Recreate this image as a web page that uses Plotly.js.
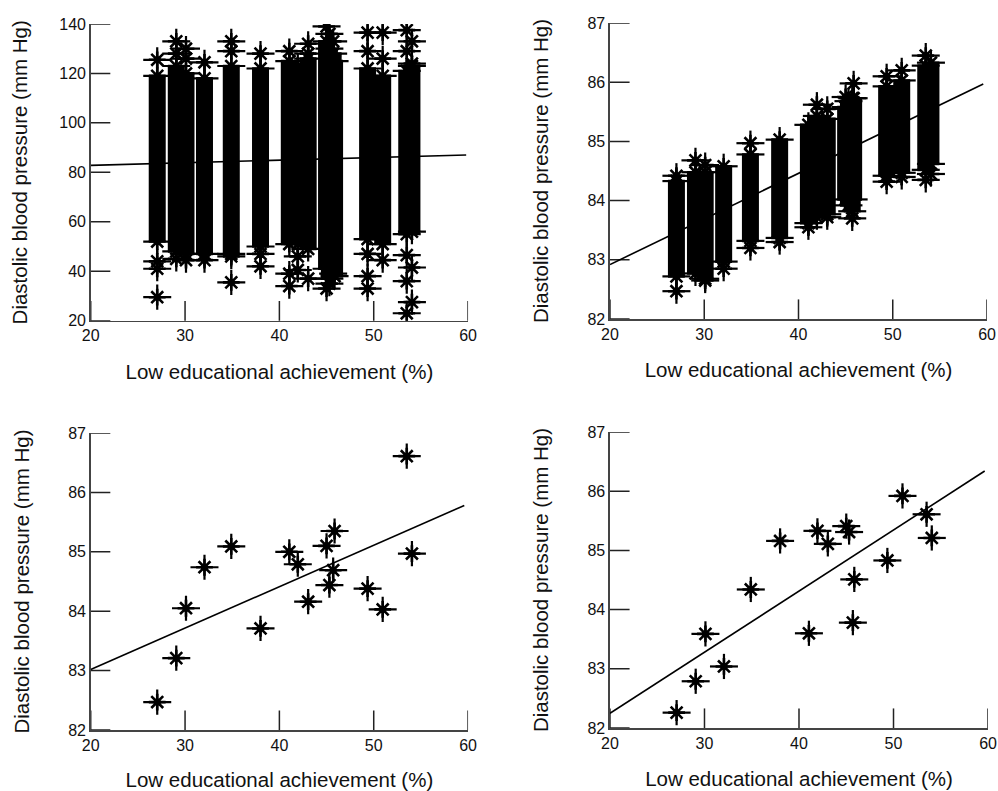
<!DOCTYPE html>
<html>
<head>
<meta charset="utf-8">
<script src="https://cdn.plot.ly/plotly-3.0.1.min.js"></script>
<style>
html,body{margin:0;padding:0;background:#fff;}
#chart{width:998px;height:791px;}
</style>
</head>
<body>
<div id="chart"></div>
<script>
// ---- Data ----
// Area-level x values: low educational achievement (%)
const areaX = [27.05, 29.07, 30.1, 32.06, 34.9, 38.0, 41.05, 41.95, 43.05, 45.0, 45.3, 45.7, 45.85, 49.35, 50.95, 53.5, 54.05];

// Top-left: individual diastolic BP, dense range per area (low / high) and isolated extreme points
const tlLow  = [52, 48, 47, 47, 47, 50, 51, 51, 49, 41, 37, 39, 38, 53, 51, 55, 56];
const tlHigh = [119, 123, 120, 118, 123, 122, 125, 123, 126, 133, 130, 128, 125, 122, 119, 121, 123];
const tlOutX = [27.05,27.05,27.05,27.05, 29.07,29.07,29.07, 30.1,30.1,30.1, 32.06,32.06, 34.9,34.9,34.9,34.9, 38.0,38.0,38.0, 41.05,41.05,41.05, 41.95,41.95, 43.05,43.05,43.05, 45.0,45.0, 45.3,45.3, 45.7, 49.35,49.35,49.35,49.35,49.35, 50.95,50.95,50.95, 53.5,53.5,53.5,53.5,53.5, 54.05,54.05,54.05,54.05];
const tlOutY = [125.5,44,41,29.5, 133,128,45, 130,126,44.5, 124.5,44.5, 133,129,46,35.5, 128,47,42, 129,39,34, 40.5,46, 132,128,37, 139,33, 136,35, 133, 136.5,129,47,38,33, 136.5,126,44.5, 137.5,129,46.5,36,23, 133,124,41.5,27.5];
const tlLineX = [20, 59.8];
const tlLineY = [82.8, 87.0];

// Top-right: predicted diastolic BP per individual, dense range per area and extreme points
const trLow  = [82.72, 82.77, 82.68, 82.97, 83.32, 83.37, 83.62, 83.72, 83.77, 84.02, 83.92, 83.82, 84.02, 84.42, 84.47, 84.52, 84.62];
const trHigh = [84.33, 84.48, 84.48, 84.58, 84.78, 85.03, 85.28, 85.43, 85.38, 85.58, 85.68, 85.73, 85.73, 85.93, 86.03, 86.28, 86.33];
const trOutX = [27.05,27.05, 29.07, 30.1,30.1, 32.06, 34.9,34.9, 38.0, 41.05, 41.95, 43.05,43.05, 45.0, 45.7, 45.85, 49.35,49.35, 50.95,50.95, 53.5,53.5, 54.05];
const trOutY = [84.42,82.47, 84.68, 84.6,82.65, 82.85, 84.97,83.2, 83.3, 83.55, 85.62, 85.55,83.72, 85.75, 83.7, 85.98, 86.1,84.32, 86.2,84.4, 86.45,84.35, 84.45];
const trLineX = [20, 59.6];
const trLineY = [82.92, 85.97];

// Bottom-left: area mean diastolic BP
const blY = [82.47, 83.21, 84.05, 84.74, 85.09, 83.71, 85.0, 84.79, 84.16, 85.10, 84.44, 84.69, 85.35, 84.38, 84.03, 86.61, 84.97];
const blLineX = [20, 59.6];
const blLineY = [83.02, 85.78];

// Bottom-right: area mean predicted diastolic BP
const brY = [82.26, 82.79, 83.59, 83.04, 84.34, 85.16, 83.60, 85.33, 85.11, 85.41, 85.31, 83.78, 84.51, 84.83, 85.92, 85.61, 85.21];
const brLineX = [20, 59.65];
const brLineY = [82.25, 86.34];

// Axis labels and ticks
const xTitle = 'Low educational achievement (%)';
const yTitle = 'Diastolic blood pressure (mm Hg)';
const xTicks = [20, 30, 40, 50, 60];
const yTicksTL = [20, 40, 60, 80, 100, 120, 140];
const yTicksBP = [82, 83, 84, 85, 86, 87];

// ---- Build ----
function segs(xs, lo, hi) {
  const X = [], Y = [];
  xs.forEach((x, i) => { X.push(x, x, null); Y.push(lo[i], hi[i], null); });
  return {X, Y};
}
const traces = [];
function addStars(x, y, xa, ya) {
  const c = {type: 'scatter', mode: 'markers', x: x, y: y, xaxis: xa, yaxis: ya, hoverinfo: 'skip', showlegend: false};
  traces.push(Object.assign({}, c, {marker: {symbol: 'line-ew-open', size: 20, color: '#000', line: {color: '#000', width: 2.2}}}));
  traces.push(Object.assign({}, c, {marker: {symbol: 'line-ns-open', size: 18, color: '#000', line: {color: '#000', width: 2.2}}}));
  traces.push(Object.assign({}, c, {marker: {symbol: 'asterisk-open', size: 14, color: '#000', line: {color: '#000', width: 2.6}}}));
  traces.push(Object.assign({}, c, {marker: {symbol: 'circle', size: 7, color: '#000', line: {width: 0}}}));
}
function addLine(x, y, xa, ya) {
  traces.push({type: 'scatter', mode: 'lines', x: x, y: y, xaxis: xa, yaxis: ya, line: {color: '#000', width: 1.6}, hoverinfo: 'skip', showlegend: false});
}
function addCore(lo, hi, xa, ya) {
  const s = segs(areaX, lo, hi);
  traces.push({type: 'scatter', mode: 'lines', x: s.X, y: s.Y, xaxis: xa, yaxis: ya, line: {color: '#000', width: 17}, connectgaps: false, hoverinfo: 'skip', showlegend: false});
  addStars(areaX, lo, xa, ya);
  addStars(areaX, hi, xa, ya);
}
// Inward tick marks: centred line markers on the axis, the outer half is clipped by the plot area
function addTicks(xa, ya, yTicks) {
  const base = {type: 'scatter', mode: 'markers', xaxis: xa, yaxis: ya, cliponaxis: true, hoverinfo: 'skip', showlegend: false};
  traces.push(Object.assign({}, base, {x: xTicks, y: xTicks.map(() => yTicks[0]),
    marker: {symbol: 'line-ns-open', size: 28, color: '#222', line: {color: '#222', width: 1.5}}}));
  traces.push(Object.assign({}, base, {x: yTicks.map(() => xTicks[0]), y: yTicks,
    marker: {symbol: 'line-ew-open', size: 28, color: '#222', line: {color: '#222', width: 1.5}}}));
}

addTicks('x', 'y', yTicksTL);
addLine(tlLineX, tlLineY, 'x', 'y');
addCore(tlLow, tlHigh, 'x', 'y');
addStars(tlOutX, tlOutY, 'x', 'y');
addTicks('x2', 'y2', yTicksBP);
addLine(trLineX, trLineY, 'x2', 'y2');
addCore(trLow, trHigh, 'x2', 'y2');
addStars(trOutX, trOutY, 'x2', 'y2');
addTicks('x3', 'y3', yTicksBP);
addLine(blLineX, blLineY, 'x3', 'y3');
addStars(areaX, blY, 'x3', 'y3');
addTicks('x4', 'y4', yTicksBP);
addLine(brLineX, brLineY, 'x4', 'y4');
addStars(areaX, brY, 'x4', 'y4');

const FONT = '"Liberation Sans", Arial, Helvetica, sans-serif';
const common = {
  showline: true, linecolor: '#444', linewidth: 1.5, ticks: '',
  showgrid: false, zeroline: false, mirror: false, fixedrange: true,
  tickfont: {family: FONT, size: 16, color: '#111'}
};
function xax(domain, anchor) {
  return Object.assign({}, common, {domain: domain, anchor: anchor, range: [20, 60],
    tickmode: 'array', tickvals: xTicks, ticktext: xTicks.map(String),
    title: {text: xTitle, font: {family: FONT, size: 20.5, color: '#111'}, standoff: 21}});
}
function yax(domain, anchor, ticks, standoff) {
  return Object.assign({}, common, {domain: domain, anchor: anchor, range: [ticks[0], ticks[ticks.length - 1]],
    tickmode: 'array', tickvals: ticks, ticktext: ticks.map(String),
    title: {text: yTitle, font: {family: FONT, size: 20.5, color: '#111'}, standoff: standoff}});
}
const layout = {
  width: 998, height: 791,
  margin: {l: 0, r: 0, t: 0, b: 0},
  paper_bgcolor: '#fff', plot_bgcolor: 'rgba(0,0,0,0)',
  showlegend: false,
  font: {family: FONT, color: '#111'},
  xaxis:  xax([0.0909, 0.469], 'y'),
  yaxis:  yax([0.5946, 0.9697], 'x', yTicksTL, 26),
  xaxis2: xax([0.6112, 0.989], 'y2'),
  yaxis2: yax([0.5967, 0.9709], 'x2', yTicksBP, 33),
  xaxis3: xax([0.0909, 0.469], 'y3'),
  yaxis3: yax([0.0771, 0.4526], 'x3', yTicksBP, 33),
  xaxis4: xax([0.6112, 0.990], 'y4'),
  yaxis4: yax([0.0796, 0.4539], 'x4', yTicksBP, 33)
};
Plotly.newPlot('chart', traces, layout, {displayModeBar: false, staticPlot: true});
</script>
</body>
</html>
